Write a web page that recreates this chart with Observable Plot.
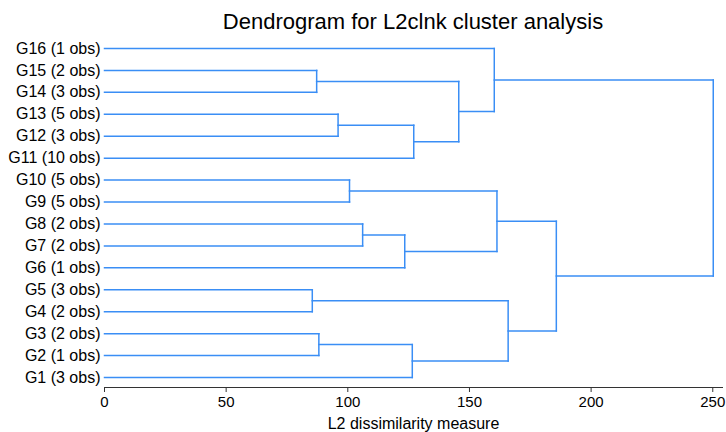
<!DOCTYPE html>
<html>
<head>
<meta charset="utf-8">
<script src="https://cdn.jsdelivr.net/npm/d3@7"></script>
<script src="https://cdn.jsdelivr.net/npm/@observablehq/plot@0.6"></script>
<style>
  body { margin: 0; background: #fff; font-family: "Liberation Sans", Arial, sans-serif; }
  #title { width: 726px; height: 36px; box-sizing: border-box; padding-left: 100px; padding-top: 11px;
           font-size: 22px; line-height: 22px; text-align: center; color: #000; }
</style>
</head>
<body>
<div id="title">Dendrogram for L2clnk cluster analysis</div>
<div id="chart"></div>
<script>
// Leaves, top to bottom
const groups = ["G16","G15","G14","G13","G12","G11","G10","G9","G8","G7","G6","G5","G4","G3","G2","G1"];
const obs    = [1, 2, 3, 5, 3, 10, 5, 5, 2, 2, 1, 3, 2, 2, 1, 3];

// Merges: node ids 0..15 are leaves (by row), merges get ids 16, 17, ...
const mergeLeft   = [1, 3, 6, 8, 11, 13, 17, 16, 0, 19, 18, 21, 20, 26, 24];
const mergeRight  = [2, 4, 7, 9, 12, 14, 5, 22, 23, 10, 25, 15, 27, 28, 29];
const mergeHeight = [87.2, 96.0, 100.7, 106.1, 85.4, 88.1, 127.1, 145.6, 160.2, 123.4, 161.3, 126.5, 165.9, 185.7, 250.2];

const xTicks = [0, 50, 100, 150, 200, 250];
const xLabel = "L2 dissimilarity measure";

const labels = groups.map((g, i) => `${g} (${obs[i]} obs)`);

// node positions
const nodeX = groups.map(() => 0);
const nodeY = groups.map((_, i) => i);
const segments = [];
mergeHeight.forEach((h, k) => {
  const a = mergeLeft[k], b = mergeRight[k];
  segments.push({x1: nodeX[a], y1: nodeY[a], x2: h, y2: nodeY[a]});
  segments.push({x1: nodeX[b], y1: nodeY[b], x2: h, y2: nodeY[b]});
  segments.push({x1: h, y1: nodeY[a], x2: h, y2: nodeY[b]});
  nodeX.push(h);
  nodeY.push((nodeY[a] + nodeY[b]) / 2);
});

const color = "#3a8ef5";

const chart = Plot.plot({
  width: 726,
  height: 396,
  marginLeft: 104,
  marginRight: 4,
  marginTop: 0,
  marginBottom: 45,
  style: {fontFamily: "Liberation Sans, Arial, sans-serif", color: "#000", background: "#fff"},
  x: {domain: [0, 254]},
  y: {domain: [0, groups.length - 1], range: [12, 341]},
  marks: [
    Plot.link(segments, {x1: "x1", y1: "y1", x2: "x2", y2: "y2", stroke: color, strokeWidth: 1.5, strokeLinecap: "square"}),
    Plot.axisY(d3.range(groups.length), {tickSize: 0, tickPadding: 4, tickFormat: i => labels[i], fontSize: 16, label: null}),
    Plot.frame({anchor: "bottom", stroke: "#333", strokeWidth: 1}),
    Plot.axisX(xTicks, {tickSize: 5, tickPadding: 4, fontSize: 15, label: null, stroke: "#333"}),
    Plot.text([xLabel], {frameAnchor: "bottom", lineAnchor: "middle", dy: 36, fontSize: 16, fill: "#000"})
  ]
});
document.getElementById("chart").appendChild(chart);
</script>
</body>
</html>
